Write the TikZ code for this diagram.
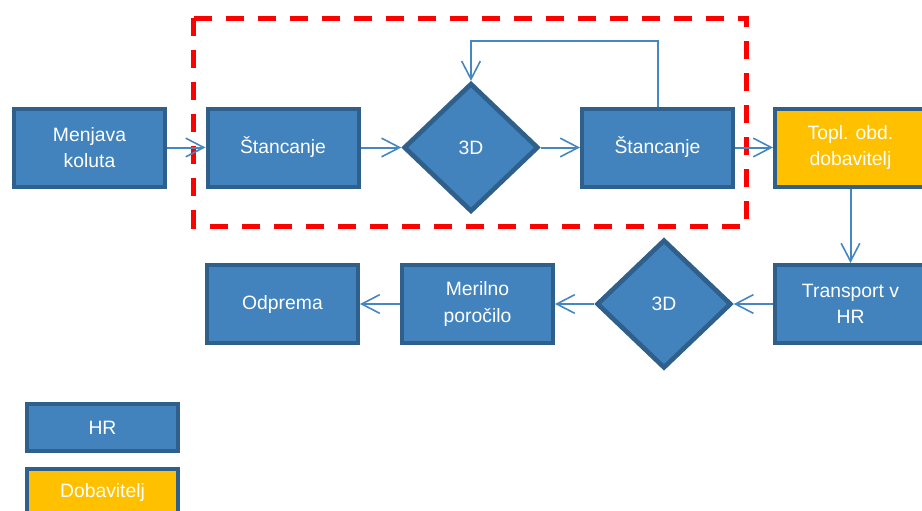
\documentclass[tikz,border=0pt]{standalone}
\usepackage{fontspec}
\setmainfont{Liberation Sans}
\usetikzlibrary{shapes.geometric,arrows.meta}

\tikzset{every picture/.style={line width=0.75pt}}
\tikzset{
  hrbox/.style={draw={rgb, 255:red, 47; green, 95; blue, 139 }, fill={rgb, 255:red, 66; green, 131; blue, 189 }, line width=3pt, minimum width=113.25pt, minimum height=58.5pt, inner sep=0.75pt, align=center, text=white, font=\fontsize{14.5}{20}\selectfont},
  dobbox/.style={hrbox, fill={rgb, 255:red, 255; green, 192; blue, 0 }},
  check/.style={diamond, draw={rgb, 255:red, 47; green, 95; blue, 139 }, fill={rgb, 255:red, 66; green, 131; blue, 189 }, line width=3.5pt, minimum width=101pt, minimum height=96.5pt, inner sep=0pt, text=white, font=\fontsize{14.5}{20}\selectfont},
  flow/.style={draw={rgb, 255:red, 70; green, 134; blue, 193 }, line width=1.5pt, -{Straight Barb[length=13.5pt,width=14pt,line width=1.2pt]}}
}

\begin{document}
\begin{tikzpicture}[x=0.75pt,y=0.75pt,yscale=-1,xscale=1]
\useasboundingbox (0,0) rectangle (922,511); %set diagram 922 wide, 511 high

%Shape: Rectangle [id:dashed group]
\draw [color={rgb, 255:red, 255; green, 0; blue, 0 }, line width=3.75pt, dash pattern={on 13.5pt off 10.5pt}] (193.5,18) -- (746.5,18) -- (746.5,226) -- (193.5,226) -- cycle ;

% Top row
\node [hrbox] (menjava) at (89.5,147.5) {Menjava\\koluta};
\node [hrbox] (stanc1) at (283,147.5) {Štancanje};
\node [check] (check1) at (471,147.5) {3D};
\node [hrbox] (stanc2) at (657.5,147.5) {Štancanje};
\node [dobbox] (topl) at (850.5,147.5) {Topl. obd.\\dobavitelj};

% Bottom row
\node [hrbox] (transport) at (850.5,304) {Transport v\\HR};
\node [check] (check2) at (664,304) {3D};
\node [hrbox] (merilno) at (477.5,304) {Merilno\\poročilo};
\node [hrbox] (odprema) at (282.5,304) {Odprema};

% Legend
\node [hrbox, minimum height=35.25pt] (leghr) at (102.5,427.5) {HR};
\node [dobbox, minimum height=35.25pt] (legdob) at (102.5,492.5) {Dobavitelj};

%Connectors
\coordinate (looptop) at (564,41);
\draw [flow] (menjava.east) -- (stanc1.west) ;
\draw [flow] (stanc1.east) -- (check1.west) ;
\draw [flow] (check1.east) -- (stanc2.west) ;
\draw [flow] (stanc2.north) |- (looptop) -| (check1.north) ;
\draw [flow] (stanc2.east) -- (topl.west) ;
\draw [flow] (topl.south) -- (transport.north) ;
\draw [flow] (transport.west) -- (check2.east) ;
\draw [flow] (check2.west) -- (merilno.east) ;
\draw [flow] (merilno.west) -- (odprema.east) ;

\end{tikzpicture}
\end{document}
